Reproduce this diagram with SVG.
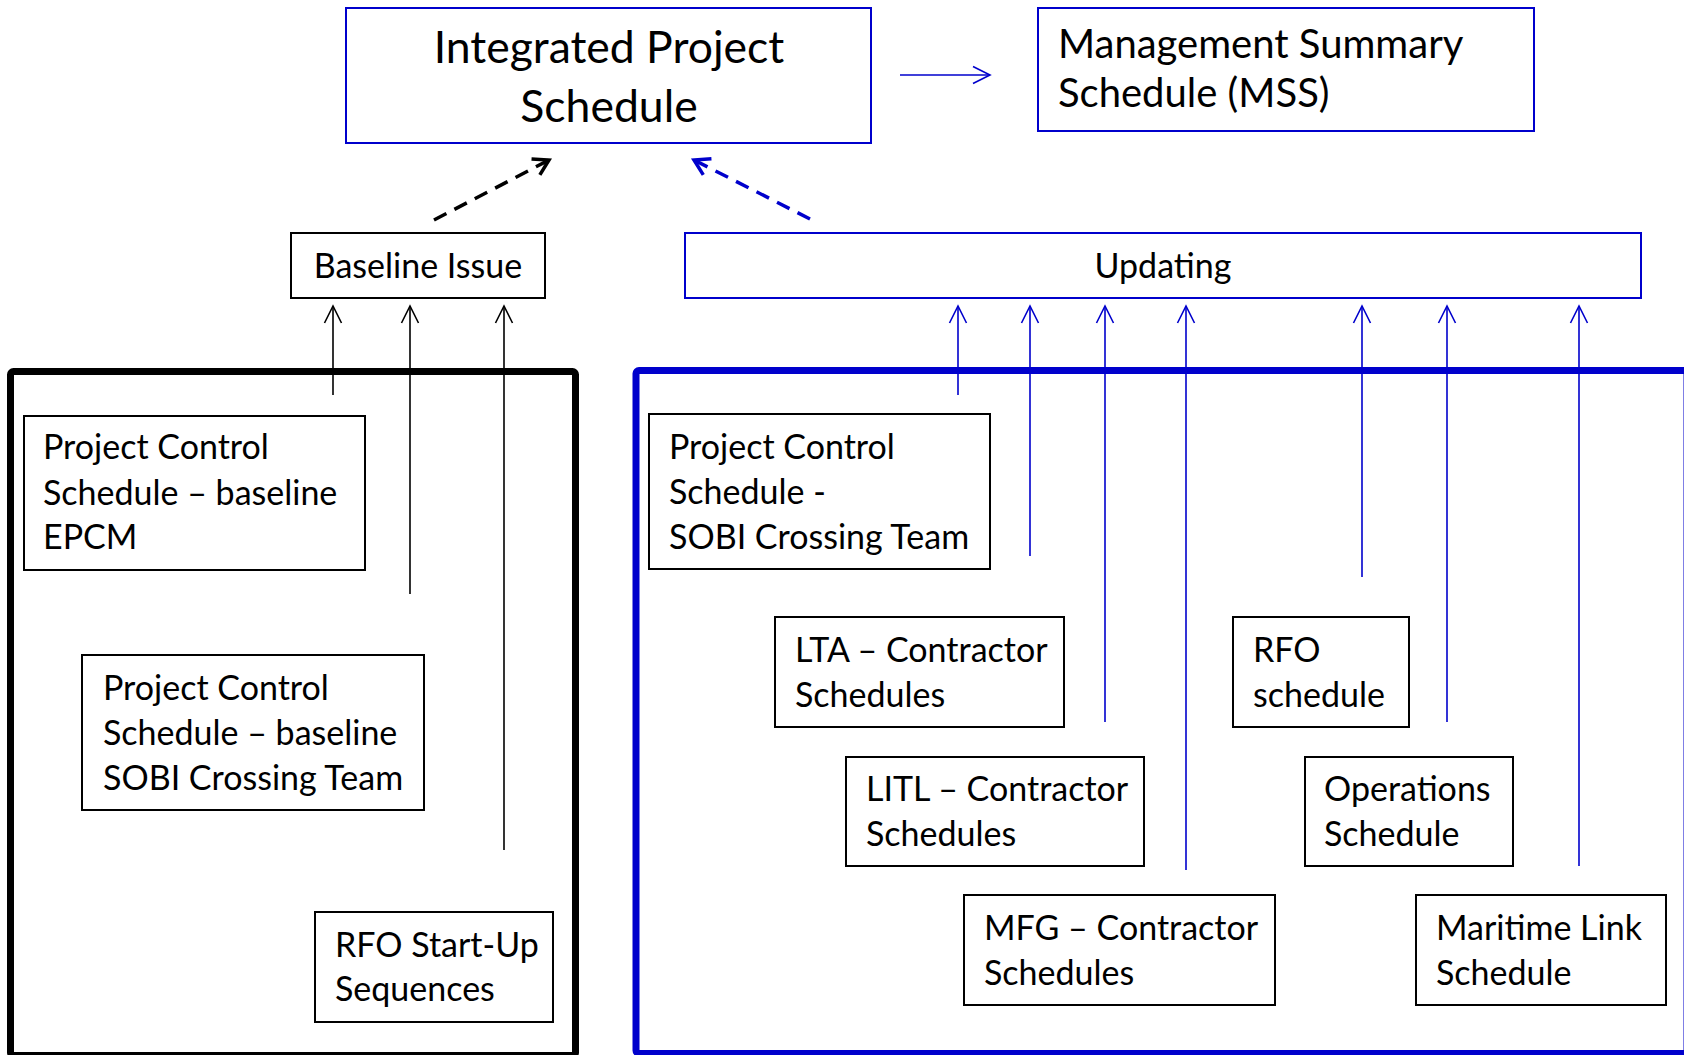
<svg xmlns="http://www.w3.org/2000/svg" width="1684" height="1055" viewBox="0 0 1684 1055">
<style>
text{font-family:Lato,"Open Sans","Liberation Sans",sans-serif;fill:#000}
.t{font-size:34px}
.box{fill:#fff;stroke:#000;stroke-width:2}
.bbox{fill:#fff;stroke:#0000CC;stroke-width:2}
.ka{stroke:#000;stroke-width:1.6;fill:none;marker-end:url(#ahk)}
.ba{stroke:#0000CC;stroke-width:1.6;fill:none;marker-end:url(#ahb)}
</style>
<defs>
<marker id="ahk" markerUnits="userSpaceOnUse" markerWidth="40" markerHeight="40" viewBox="-20 -20 40 40" refX="0" refY="0" orient="auto"><path d="M-17,-8.5 L0,0 L-17,8.5" fill="none" stroke="#000" stroke-width="1.6"/></marker>
<marker id="ahb" markerUnits="userSpaceOnUse" markerWidth="40" markerHeight="40" viewBox="-20 -20 40 40" refX="0" refY="0" orient="auto"><path d="M-17,-8.5 L0,0 L-17,8.5" fill="none" stroke="#0000CC" stroke-width="1.6"/></marker>
<marker id="dk" markerUnits="userSpaceOnUse" markerWidth="40" markerHeight="40" viewBox="-20 -20 40 40" refX="0" refY="0" orient="auto"><path d="M-15,-9 L0,0 L-15,9" fill="none" stroke="#000" stroke-width="3.5"/></marker>
<marker id="db" markerUnits="userSpaceOnUse" markerWidth="40" markerHeight="40" viewBox="-20 -20 40 40" refX="0" refY="0" orient="auto"><path d="M-15,-9 L0,0 L-15,9" fill="none" stroke="#0000CC" stroke-width="3.5"/></marker>
</defs>
<rect width="1684" height="1055" fill="#fff"/>
<g id="frames">
<rect x="10.5" y="371.5" width="565" height="684" rx="3" fill="none" stroke="#000" stroke-width="7"/>
<rect x="636" y="370.5" width="1051" height="683" rx="3" fill="none" stroke="#0000CC" stroke-width="7"/>
</g>
<g id="connectors">
<line class="ka" x1="333" y1="395" x2="333" y2="306"/>
<line class="ka" x1="410" y1="594" x2="410" y2="306"/>
<line class="ka" x1="504" y1="850" x2="504" y2="306"/>
<line class="ba" x1="958" y1="395" x2="958" y2="306"/>
<line class="ba" x1="1030" y1="556" x2="1030" y2="306"/>
<line class="ba" x1="1105" y1="722" x2="1105" y2="306"/>
<line class="ba" x1="1186" y1="870" x2="1186" y2="306"/>
<line class="ba" x1="1362" y1="577" x2="1362" y2="306"/>
<line class="ba" x1="1447" y1="722" x2="1447" y2="306"/>
<line class="ba" x1="1579" y1="866" x2="1579" y2="306"/>
<line class="ba" x1="900" y1="75" x2="990" y2="75"/>
<line x1="434" y1="220" x2="549" y2="160" stroke="#000" stroke-width="3.5" stroke-dasharray="14 9" marker-end="url(#dk)"/>
<line x1="810" y1="219" x2="694" y2="160" stroke="#0000CC" stroke-width="3.5" stroke-dasharray="14 9" marker-end="url(#db)"/>
</g>
<g id="ips">
<rect class="bbox" x="346" y="8" width="525" height="135"/>
<text x="609" y="63" font-size="44.5" text-anchor="middle">Integrated Project</text>
<text x="609" y="122" font-size="44.5" text-anchor="middle">Schedule</text>
</g>
<g id="mss">
<rect class="bbox" x="1038" y="8" width="496" height="123"/>
<text x="1058" y="58" font-size="40">Management Summary</text>
<text x="1058" y="107" font-size="40">Schedule (MSS)</text>
</g>
<g id="baseline">
<rect class="box" x="291" y="233" width="254" height="65"/>
<text class="t" x="418" y="278" text-anchor="middle">Baseline Issue</text>
</g>
<g id="updating">
<rect class="bbox" x="685" y="233" width="956" height="65"/>
<text class="t" x="1163" y="278" text-anchor="middle">Updating</text>
</g>
<g id="pcs-epcm">
<rect class="box" x="24" y="416" width="341" height="154"/>
<text class="t" x="43" y="459">Project Control</text>
<text class="t" x="43" y="505">Schedule – baseline</text>
<text class="t" x="43" y="549">EPCM</text>
</g>
<g id="pcs-sobi-baseline">
<rect class="box" x="82" y="655" width="342" height="155"/>
<text class="t" x="103" y="700">Project Control</text>
<text class="t" x="103" y="745">Schedule – baseline</text>
<text class="t" x="103" y="790">SOBI Crossing Team</text>
</g>
<g id="rfo-startup">
<rect class="box" x="315" y="912" width="238" height="110"/>
<text class="t" x="335" y="957">RFO Start-Up</text>
<text class="t" x="335" y="1001">Sequences</text>
</g>
<g id="pcs-sobi">
<rect class="box" x="649" y="414" width="341" height="155"/>
<text class="t" x="669" y="459">Project Control</text>
<text class="t" x="669" y="504">Schedule -</text>
<text class="t" x="669" y="549">SOBI Crossing Team</text>
</g>
<g id="lta">
<rect class="box" x="775" y="617" width="289" height="110"/>
<text class="t" x="795" y="662">LTA – Contractor</text>
<text class="t" x="795" y="707">Schedules</text>
</g>
<g id="litl">
<rect class="box" x="846" y="757" width="298" height="109"/>
<text class="t" x="866" y="801">LITL – Contractor</text>
<text class="t" x="866" y="846">Schedules</text>
</g>
<g id="mfg">
<rect class="box" x="964" y="895" width="311" height="110"/>
<text class="t" x="984" y="940">MFG – Contractor</text>
<text class="t" x="984" y="985">Schedules</text>
</g>
<g id="rfo-schedule">
<rect class="box" x="1233" y="617" width="176" height="110"/>
<text class="t" x="1253" y="662">RFO</text>
<text class="t" x="1253" y="707">schedule</text>
</g>
<g id="operations">
<rect class="box" x="1305" y="757" width="208" height="109"/>
<text class="t" x="1324" y="801">Operations</text>
<text class="t" x="1324" y="846">Schedule</text>
</g>
<g id="maritime">
<rect class="box" x="1416" y="895" width="250" height="110"/>
<text class="t" x="1436" y="940">Maritime Link</text>
<text class="t" x="1436" y="985">Schedule</text>
</g>
</svg>
